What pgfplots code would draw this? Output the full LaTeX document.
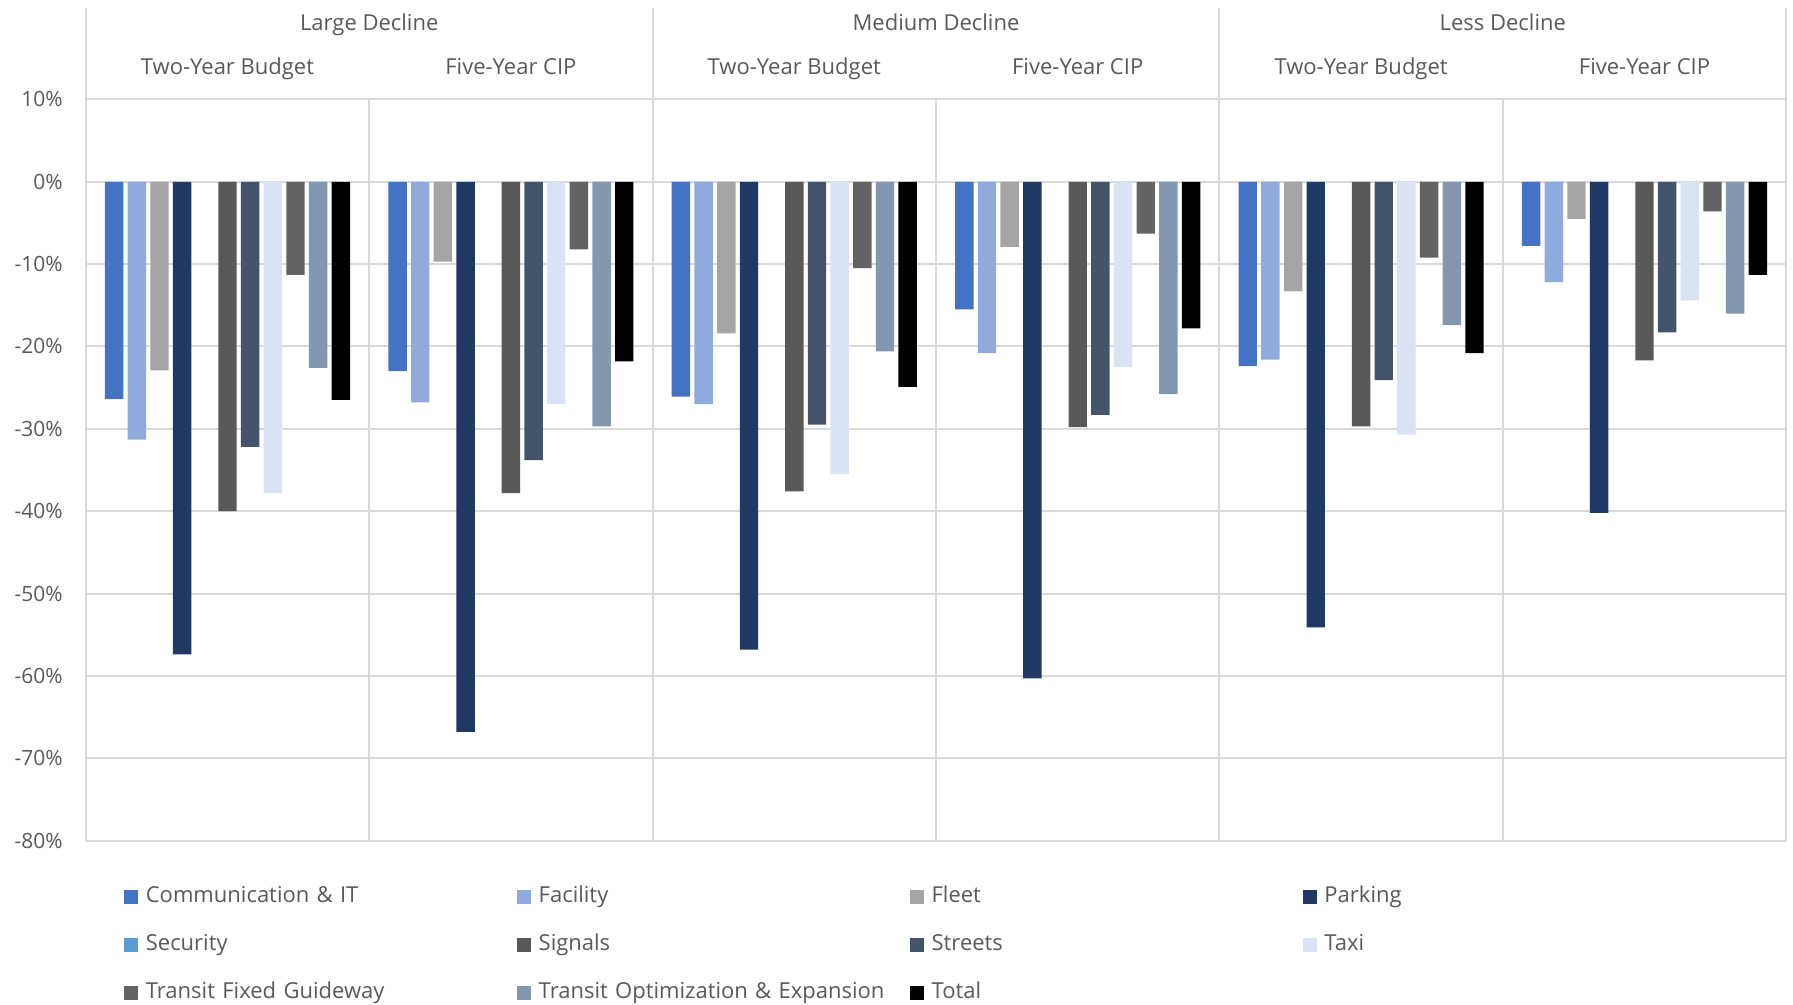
\documentclass[border=0pt]{standalone}
\usepackage{pgfplots}
\usepackage{pgfplotstable}
\pgfplotsset{compat=1.18}
\usepackage{fontspec}
\setmainfont{Open Sans}

\definecolor{cComm}{HTML}{4472C4}
\definecolor{cFac}{HTML}{8FAADC}
\definecolor{cFleet}{HTML}{A5A5A5}
\definecolor{cPark}{HTML}{203864}
\definecolor{cSec}{HTML}{5B9BD5}
\definecolor{cSig}{HTML}{595959}
\definecolor{cStr}{HTML}{44546A}
\definecolor{cTaxi}{HTML}{DAE3F3}
\definecolor{cTfg}{HTML}{636363}
\definecolor{cToe}{HTML}{8497B0}
\definecolor{cTot}{HTML}{000000}
\definecolor{gridc}{HTML}{D9D9D9}
\definecolor{txt}{HTML}{595959}

% groups: 0/1 Large Decline, 2/3 Medium Decline, 4/5 Less Decline
% (even = Two-Year Budget, odd = Five-Year CIP); Security has no values
\pgfplotstableread{
grp comm  fac   fleet park  sig   str   taxi  tfg   toe   tot
0   -26.4 -31.3 -22.9 -57.4 -40.0 -32.2 -37.8 -11.3 -22.6 -26.5
1   -23.0 -26.8  -9.7 -66.8 -37.8 -33.8 -27.0  -8.2 -29.7 -21.8
2   -26.1 -27.0 -18.4 -56.8 -37.6 -29.5 -35.5 -10.5 -20.6 -24.9
3   -15.5 -20.8  -7.9 -60.3 -29.8 -28.3 -22.5  -6.3 -25.8 -17.8
4   -22.4 -21.6 -13.3 -54.1 -29.7 -24.1 -30.7  -9.2 -17.4 -20.8
5    -7.8 -12.2  -4.5 -40.2 -21.7 -18.3 -14.4  -3.6 -16.0 -11.3
}\data

\pgfplotsset{
  bar/.style 2 args={ybar, bar width=0.065, bar shift=#1, fill=#2, draw=none},
}
\tikzset{
  sep/.style={gridc, line width=1pt},
  hdr/.style={text=txt, font=\fontsize{11}{13}\selectfont, text height=8pt, text depth=2.5pt},
}

\begin{document}
\begin{tikzpicture}
\begin{axis}[
  name=ax,
  scale only axis,
  width=850pt, height=370.5pt,
  xmin=-0.5, xmax=5.5,
  ymin=-80, ymax=10,
  ytick={-80,-70,...,10},
  yticklabels={-80\%,-70\%,-60\%,-50\%,-40\%,-30\%,-20\%,-10\%,0\%,10\%},
  xtick={-0.5,0.5,...,5.5},
  xticklabels={},
  major tick length=0pt,
  xmajorgrids, ymajorgrids,
  grid style={gridc, line width=1pt},
  axis line style={draw=none},
  yticklabel style={font=\fontsize{10.5}{12}\selectfont, text=txt, xshift=-8pt},
  clip=false,
  legend columns=4,
  legend image code/.code={\fill[#1] (0pt,-3.5pt) rectangle (7pt,3.5pt);},
  legend style={
    at={(0,0)}, anchor=north west, xshift=18.9pt, yshift=-21.3pt,
    draw=none, fill=none, inner sep=0pt, row sep=10.5pt,
    font=\fontsize{11}{13}\selectfont, text=txt,
    nodes={inner sep=1.5pt, text width=184pt, align=left, text height=8pt, text depth=2.5pt},
    /tikz/every odd column/.append style={column sep=2.4pt},
  },
]
\addplot[bar={-0.40}{cComm}] table[x=grp, y=comm] {\data};
\addlegendentry{Communication \& IT}
\addplot[bar={-0.32}{cFac}] table[x=grp, y=fac] {\data};
\addlegendentry{Facility}
\addplot[bar={-0.24}{cFleet}] table[x=grp, y=fleet] {\data};
\addlegendentry{Fleet}
\addplot[bar={-0.16}{cPark}] table[x=grp, y=park] {\data};
\addlegendentry{Parking}
\addlegendimage{fill=cSec, draw=none}
\addlegendentry{Security}
\addplot[bar={0.00}{cSig}] table[x=grp, y=sig] {\data};
\addlegendentry{Signals}
\addplot[bar={0.08}{cStr}] table[x=grp, y=str] {\data};
\addlegendentry{Streets}
\addplot[bar={0.16}{cTaxi}] table[x=grp, y=taxi] {\data};
\addlegendentry{Taxi}
\addplot[bar={0.24}{cTfg}] table[x=grp, y=tfg] {\data};
\addlegendentry{Transit Fixed Guideway}
\addplot[bar={0.32}{cToe}] table[x=grp, y=toe] {\data};
\addlegendentry{Transit Optimization \& Expansion}
\addplot[bar={0.40}{cTot}] table[x=grp, y=tot] {\data};
\addlegendentry{Total}

% multi-level category header above the plot
\draw[sep] (axis cs:-0.5,10) -- ++(0pt,45.7pt);
\draw[sep] (axis cs:1.5,10) -- ++(0pt,45.7pt);
\draw[sep] (axis cs:3.5,10) -- ++(0pt,45.7pt);
\draw[sep] (axis cs:5.5,10) -- ++(0pt,45.7pt);
\node[hdr, yshift=37.4pt] at (axis cs:0.5,10) {Large Decline};
\node[hdr, yshift=37.4pt] at (axis cs:2.5,10) {Medium Decline};
\node[hdr, yshift=37.4pt] at (axis cs:4.5,10) {Less Decline};
\node[hdr, yshift=15pt] at (axis cs:0,10) {Two-Year Budget};
\node[hdr, yshift=15pt] at (axis cs:1,10) {Five-Year CIP};
\node[hdr, yshift=15pt] at (axis cs:2,10) {Two-Year Budget};
\node[hdr, yshift=15pt] at (axis cs:3,10) {Five-Year CIP};
\node[hdr, yshift=15pt] at (axis cs:4,10) {Two-Year Budget};
\node[hdr, yshift=15pt] at (axis cs:5,10) {Five-Year CIP};
\end{axis}
\pgfresetboundingbox
\path ([xshift=-42.9pt, yshift=49.7pt]ax.north west) rectangle ([xshift=3.4pt, yshift=-81.8pt]ax.south east);
\end{tikzpicture}
\end{document}
